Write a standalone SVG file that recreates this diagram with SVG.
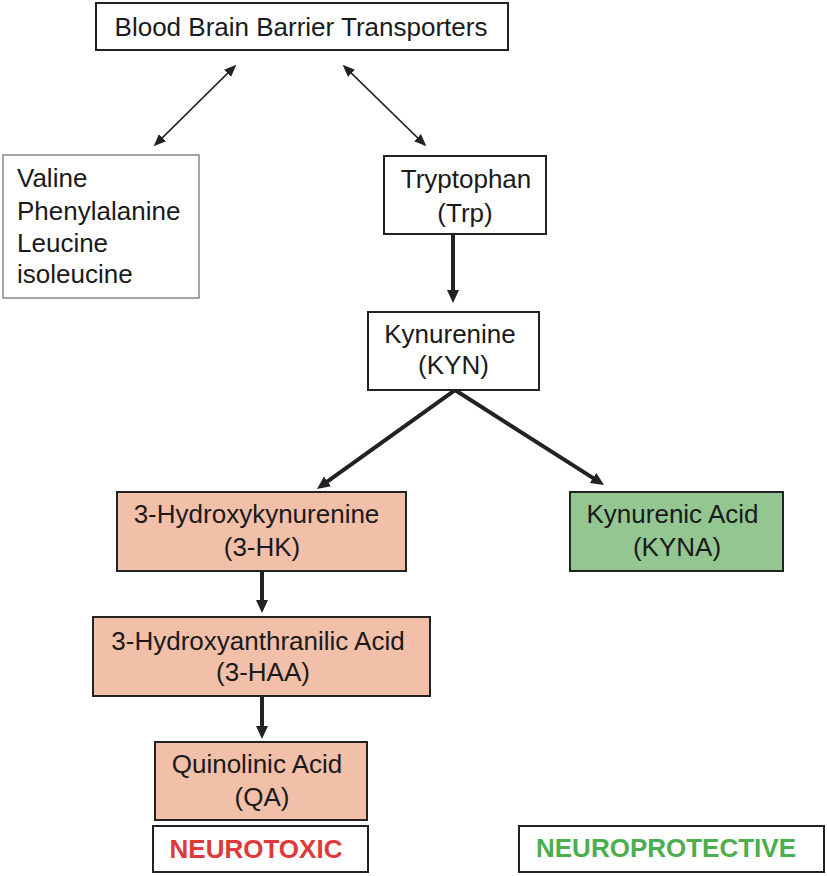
<svg xmlns="http://www.w3.org/2000/svg" width="827" height="876" viewBox="0 0 827 876">
<style>
  .box { fill: #ffffff; stroke: #222222; stroke-width: 2; }
  .thin { fill: #ffffff; stroke: #888888; stroke-width: 1.5; }
  .tox { fill: #F2BFA9; stroke: #222222; stroke-width: 2; }
  .pro { fill: #93C690; stroke: #222222; stroke-width: 2; }
  text { font-family: "Liberation Sans", Arial, sans-serif; font-size: 26px; fill: #1a1a1a; }
  .c { text-anchor: middle; }
  .b { font-weight: bold; }
  .red { fill: #E0393A; }
  .grn { fill: #4DAE50; }
  .thick { stroke: #222222; stroke-width: 4; fill: none; }
  .fine { stroke: #222222; stroke-width: 1.5; fill: none; }
</style>
<defs>
  <marker id="ah" markerUnits="userSpaceOnUse" markerWidth="14" markerHeight="14" viewBox="0 0 14 14" refX="3" refY="7" orient="auto">
    <path d="M0,1 L13,7 L0,13 z" fill="#222222"/>
  </marker>
  <marker id="ahs" markerUnits="userSpaceOnUse" markerWidth="13" markerHeight="11" viewBox="0 0 13 11" refX="10" refY="5.5" orient="auto-start-reverse">
    <path d="M0,0.5 L12.5,5.5 L0,10.5 z" fill="#222222"/>
  </marker>
</defs>

<g id="connectors">
  <line class="fine" x1="234.6" y1="66.4" x2="155.4" y2="144.6" marker-start="url(#ahs)" marker-end="url(#ahs)"/>
  <line class="fine" x1="344.4" y1="66.4" x2="424.6" y2="144.6" marker-start="url(#ahs)" marker-end="url(#ahs)"/>
  <line class="thick" x1="453" y1="235" x2="453" y2="293" marker-end="url(#ah)"/>
  <line class="thick" x1="455" y1="390" x2="325.1" y2="483.2" marker-end="url(#ah)"/>
  <line class="thick" x1="455" y1="390" x2="595.6" y2="479.6" marker-end="url(#ah)"/>
  <line class="thick" x1="262" y1="572" x2="262" y2="603" marker-end="url(#ah)"/>
  <line class="thick" x1="262" y1="697" x2="262" y2="729" marker-end="url(#ah)"/>
</g>

<g id="bbb">
  <rect class="box" x="96" y="3" width="412" height="47"/>
  <text class="c" x="301" y="36">Blood Brain Barrier Transporters</text>
</g>

<g id="other-aa">
  <rect class="thin" x="3" y="155" width="196" height="143"/>
  <text x="17" y="187">Valine</text>
  <text x="17" y="220">Phenylalanine</text>
  <text x="17" y="252">Leucine</text>
  <text x="17" y="283">isoleucine</text>
</g>

<g id="trp">
  <rect class="box" x="384" y="156" width="162" height="78"/>
  <text class="c" x="466" y="188">Tryptophan</text>
  <text class="c" x="465" y="222">(Trp)</text>
</g>

<g id="kyn">
  <rect class="box" x="368" y="312" width="171" height="78"/>
  <text class="c" x="450" y="343">Kynurenine</text>
  <text class="c" x="453.5" y="374">(KYN)</text>
</g>

<g id="hk">
  <rect class="tox" x="117" y="492" width="289" height="79"/>
  <text class="c" x="256.5" y="523">3-Hydroxykynurenine</text>
  <text class="c" x="262" y="556">(3-HK)</text>
</g>

<g id="kyna">
  <rect class="pro" x="570" y="492" width="213" height="79"/>
  <text class="c" x="672.5" y="523">Kynurenic Acid</text>
  <text class="c" x="677" y="556">(KYNA)</text>
</g>

<g id="haa">
  <rect class="tox" x="93" y="617" width="337" height="79"/>
  <text class="c" x="258" y="650">3-Hydroxyanthranilic Acid</text>
  <text class="c" x="263" y="681">(3-HAA)</text>
</g>

<g id="qa">
  <rect class="tox" x="155" y="742" width="212" height="78"/>
  <text class="c" x="257" y="773">Quinolinic Acid</text>
  <text class="c" x="262" y="806">(QA)</text>
</g>

<g id="neurotoxic">
  <rect class="box" x="153" y="826" width="215" height="46"/>
  <text class="c b red" x="256" y="858">NEUROTOXIC</text>
</g>

<g id="neuroprotective">
  <rect class="box" x="519" y="826" width="305" height="46"/>
  <text class="c b grn" x="666" y="857">NEUROPROTECTIVE</text>
</g>
</svg>
